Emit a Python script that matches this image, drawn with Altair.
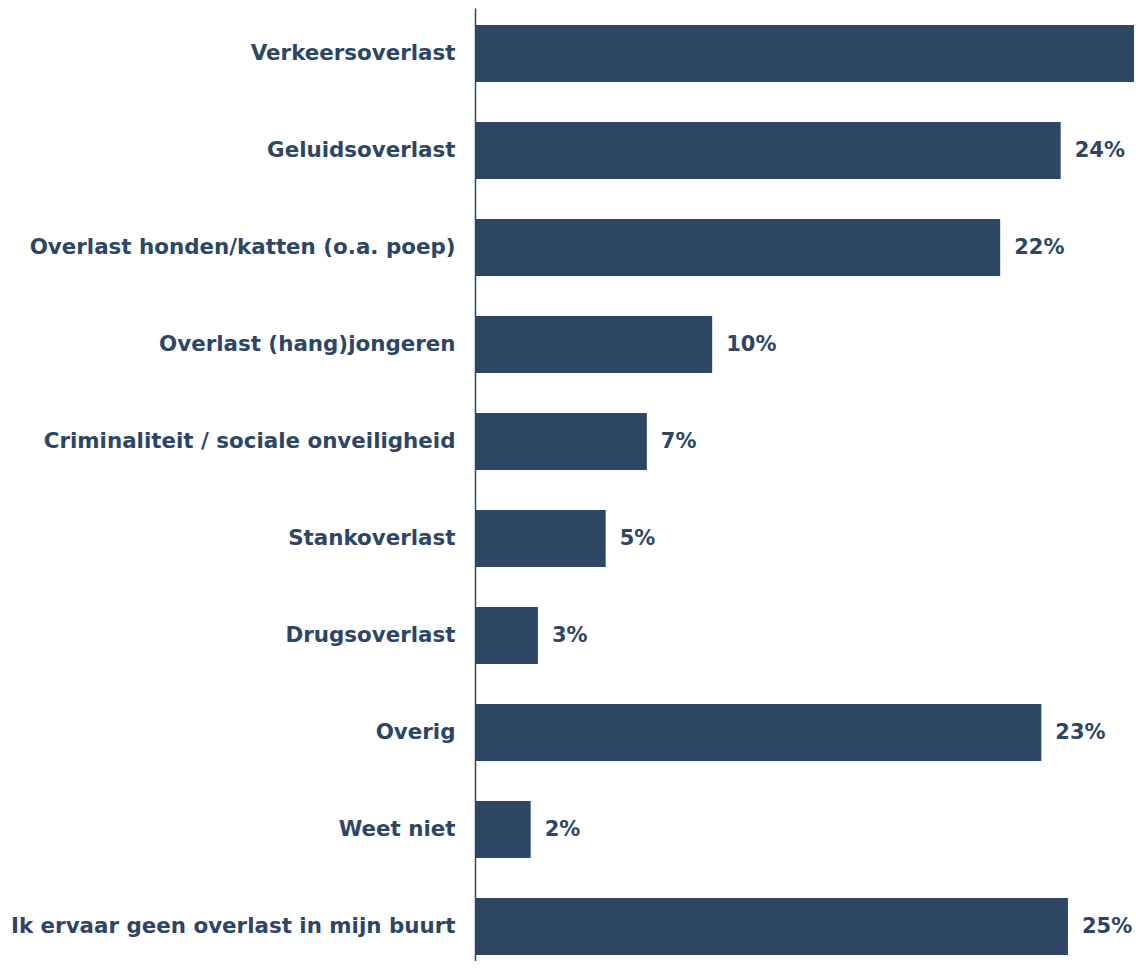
import altair as alt
import pandas as pd

categories = [
    "Verkeersoverlast",
    "Geluidsoverlast",
    "Overlast honden/katten (o.a. poep)",
    "Overlast (hang)jongeren",
    "Criminaliteit / sociale onveiligheid",
    "Stankoverlast",
    "Drugsoverlast",
    "Overig",
    "Weet niet",
    "Ik ervaar geen overlast in mijn buurt",
]
values = [29.0, 24.2, 21.7, 9.8, 7.1, 5.4, 2.6, 23.4, 2.3, 24.5]
# the label of the first bar lies outside the visible area in the reference
labels = ["", "24%", "22%", "10%", "7%", "5%", "3%", "23%", "2%", "25%"]

COLOR = "#2d4664"
FONT = "DejaVu Sans"

df = pd.DataFrame({"cat": categories, "value": values, "label": labels})

y_enc = alt.Y(
    "cat:N",
    sort=categories,
    scale=alt.Scale(paddingInner=0.412, paddingOuter=0.1186, align=0.74),
    axis=alt.Axis(
        title=None,
        labelFont=FONT,
        labelFontWeight="bold",
        labelFontSize=21.4,
        labelColor=COLOR,
        labelPadding=20,
        labelLimit=0,
        ticks=False,
        domainColor=COLOR,
        domainWidth=1.5,
        grid=False,
    ),
)
x_enc = alt.X("value:Q", scale=alt.Scale(domain=[0, 27.23], nice=False), axis=None)

base = alt.Chart(df)
bars = base.mark_bar(color=COLOR, clip=True).encode(y=y_enc, x=x_enc)
text = base.mark_text(
    align="left",
    baseline="middle",
    dx=14,
    font=FONT,
    fontSize=21,
    fontWeight="bold",
    color=COLOR,
).encode(y=y_enc, x=x_enc, text="label:N")

chart = (
    alt.layer(bars, text)
    .properties(
        width=659,
        height=953,
        padding={"left": 467, "top": 0, "right": 0, "bottom": 0},
        autosize=alt.AutoSizeParams(type="none"),
    )
    .configure_view(stroke=None)
)

chart.save("out.html", embed_options={"renderer": "svg", "actions": False})
